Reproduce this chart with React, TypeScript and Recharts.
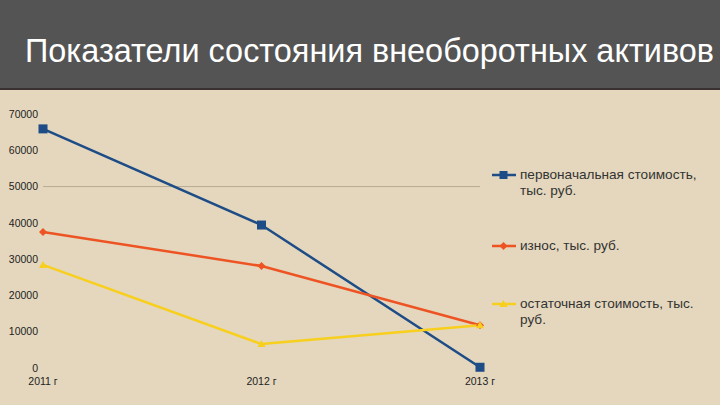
import { LineChart, Line, XAxis, YAxis, ReferenceLine } from 'recharts'

const years = ['2011 г', '2012 г', '2013 г']
const initialCost = [65900, 39400, 200]
const depreciation = [37500, 28100, 11800]
const residualCost = [28400, 6600, 11800]
const yTicks = [0, 10000, 20000, 30000, 40000, 50000, 60000, 70000]

const seriesNames = {
  initial: 'первоначальная стоимость, тыс. руб.',
  wear: 'износ, тыс. руб.',
  residual: 'остаточная стоимость, тыс. руб.',
}

const COLORS = {
  initial: '#1d4c86',
  wear: '#ee5423',
  residual: '#f7cf1c',
  bg: '#e4d7bd',
  header: '#545454',
}

const data = years.map((year, i) => ({
  year,
  initial: initialCost[i],
  wear: depreciation[i],
  residual: residualCost[i],
}))

const SquareDot = (props: any) => {
  const { cx, cy } = props
  return <rect key={`s${props.index}`} x={cx - 4.5} y={cy - 4.5} width={9} height={9} fill={COLORS.initial} />
}

const DiamondDot = (props: any) => {
  const { cx, cy } = props
  return (
    <polygon
      key={`d${props.index}`}
      points={`${cx},${cy - 4} ${cx + 4},${cy} ${cx},${cy + 4} ${cx - 4},${cy}`}
      fill={COLORS.wear}
    />
  )
}

const TriangleDot = (props: any) => {
  const { cx, cy } = props
  return (
    <polygon
      key={`t${props.index}`}
      points={`${cx},${cy - 4} ${cx + 4},${cy + 3} ${cx - 4},${cy + 3}`}
      fill={COLORS.residual}
    />
  )
}

function LegendItem({ color, marker, label, top }: { color: string; marker: string; label: string; top: number }) {
  return (
    <div style={{ position: 'absolute', left: 492, top, display: 'flex', alignItems: 'flex-start' }}>
      <svg width={26} height={16} style={{ flex: 'none' }}>
        <line x1={0} y1={8} x2={24} y2={8} stroke={color} strokeWidth={2.5} />
        {marker === 'square' && <rect x={7.5} y={4} width={8} height={8} fill={color} />}
        {marker === 'diamond' && <polygon points="11.5,4 15.5,8 11.5,12 7.5,8" fill={color} />}
        {marker === 'triangle' && <polygon points="11.5,4 15.5,11 7.5,11" fill={color} />}
      </svg>
      <div style={{ marginLeft: 2, width: 196, fontSize: 13.6, lineHeight: '16px', color: '#333' }}>{label}</div>
    </div>
  )
}

export default function App() {
  return (
    <div
      style={{
        position: 'absolute',
        left: 0,
        top: 0,
        width: 720,
        height: 405,
        background: COLORS.bg,
        fontFamily: '"Liberation Sans", Arial, sans-serif',
        overflow: 'hidden',
      }}
    >
      <div
        style={{
          position: 'absolute',
          left: 0,
          top: 0,
          width: 720,
          height: 88,
          background: COLORS.header,
          borderBottom: '2px solid #3a3232',
        }}
      />
      <div
        style={{
          position: 'absolute',
          left: 25,
          top: 31,
          fontSize: 32,
          lineHeight: '40px',
          color: '#fff',
          whiteSpace: 'nowrap',
          transform: 'scale(1.013, 1.03)',
          transformOrigin: 'left center',
        }}
      >
        Показатели состояния внеоборотных активов
      </div>
      <div style={{ position: 'absolute', left: 0, top: 88 }}>
        <LineChart width={720} height={317} data={data} margin={{ top: 26, right: 240, bottom: 0, left: 0 }}>
          <XAxis
            dataKey="year"
            axisLine={false}
            tickLine={false}
            height={37}
            tickMargin={4}
            tick={{ fontSize: 10.5, fill: '#222' }}
            interval={0}
          />
          <YAxis
            domain={[0, 70000]}
            ticks={yTicks}
            axisLine={false}
            tickLine={false}
            width={43}
            tickMargin={-1}
            tick={{ fontSize: 10.5, fill: '#222' }}
          />
          <ReferenceLine y={50000} stroke="#b7ab94" strokeWidth={1} />
          <Line
            dataKey="initial"
            name={seriesNames.initial}
            stroke={COLORS.initial}
            strokeWidth={2.5}
            dot={SquareDot}
            isAnimationActive={false}
          />
          <Line
            dataKey="wear"
            name={seriesNames.wear}
            stroke={COLORS.wear}
            strokeWidth={2.5}
            dot={DiamondDot}
            isAnimationActive={false}
          />
          <Line
            dataKey="residual"
            name={seriesNames.residual}
            stroke={COLORS.residual}
            strokeWidth={2.5}
            dot={TriangleDot}
            isAnimationActive={false}
          />
        </LineChart>
      </div>
      <LegendItem color={COLORS.initial} marker="square" label="первоначальная стоимость, тыс. руб." top={167} />
      <LegendItem color={COLORS.wear} marker="diamond" label={seriesNames.wear} top={238} />
      <LegendItem color={COLORS.residual} marker="triangle" label="остаточная стоимость, тыс. руб." top={296} />
    </div>
  )
}
